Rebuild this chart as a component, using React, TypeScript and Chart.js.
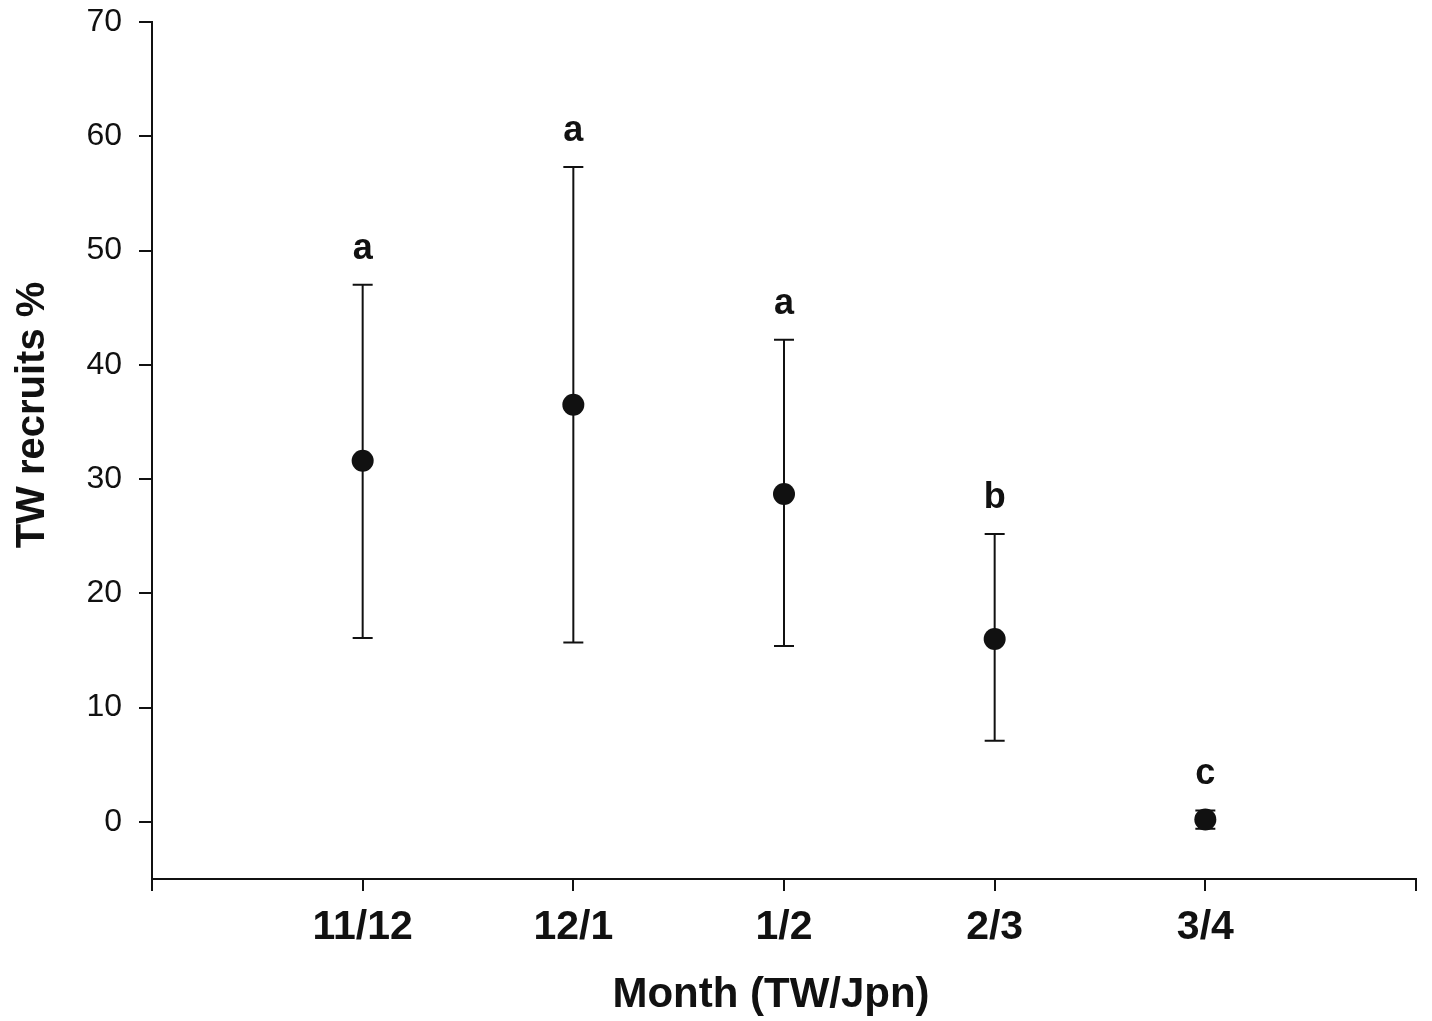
import React, { useEffect, useRef } from "react";
import { Chart, registerables } from "chart.js";

Chart.register(...registerables);

const categories = ["11/12", "12/1", "1/2", "2/3", "3/4"];
const means = [31.6, 36.5, 28.7, 16.0, 0.2];
const upper = [47.0, 57.3, 42.2, 25.2, 1.0];
const lower = [16.1, 15.7, 15.4, 7.1, -0.6];
const letters = ["a", "a", "a", "b", "c"];
const yTicks = [0, 10, 20, 30, 40, 50, 60, 70];

const FONT = '"Liberation Sans", Arial, Helvetica, sans-serif';
const INK = "#111111";

export default function App() {
  const ref = useRef<HTMLCanvasElement | null>(null);

  useEffect(() => {
    if (!ref.current) return;

    const errorBars = {
      id: "errorBars",
      beforeDatasetsDraw(chart: any) {
        const ctx = chart.ctx;
        const xs = chart.scales.x;
        const ys = chart.scales.y;
        ctx.save();
        ctx.strokeStyle = INK;
        ctx.lineWidth = 2;
        categories.forEach((_, i) => {
          const x = xs.getPixelForValue(i + 1);
          const yu = ys.getPixelForValue(upper[i]);
          const yl = ys.getPixelForValue(lower[i]);
          ctx.beginPath();
          ctx.moveTo(x, yu);
          ctx.lineTo(x, yl);
          ctx.moveTo(x - 10, yu);
          ctx.lineTo(x + 10, yu);
          ctx.moveTo(x - 10, yl);
          ctx.lineTo(x + 10, yl);
          ctx.stroke();
        });
        ctx.restore();
      },
      afterDraw(chart: any) {
        const ctx = chart.ctx;
        const xs = chart.scales.x;
        const ys = chart.scales.y;
        ctx.save();
        ctx.fillStyle = INK;
        ctx.textAlign = "center";
        ctx.textBaseline = "alphabetic";
        ctx.font = `bold 36px ${FONT}`;
        letters.forEach((l, i) => {
          const x = xs.getPixelForValue(i + 1);
          const yu = ys.getPixelForValue(upper[i]);
          ctx.fillText(l, x, yu - 26);
        });
        // axis titles
        ctx.font = `bold 42px ${FONT}`;
        ctx.textBaseline = "middle";
        ctx.fillText("Month (TW/Jpn)", 771, 995);
        ctx.translate(33, 415);
        ctx.rotate(-Math.PI / 2);
        ctx.font = `bold 40px ${FONT}`;
        ctx.fillText("TW recruits %", 0, 0);
        ctx.restore();
      },
    };

    const chart = new Chart(ref.current, {
      type: "scatter",
      data: {
        datasets: [
          {
            label: "TW recruits %",
            data: means.map((m, i) => ({ x: i + 1, y: m })),
            backgroundColor: INK,
            borderColor: INK,
            pointRadius: 11,
            pointHoverRadius: 11,
            borderWidth: 0,
          },
        ],
      },
      options: {
        animation: false,
        responsive: false,
        layout: { padding: { top: 22, right: 16, left: 0, bottom: 0 } },
        plugins: {
          legend: { display: false },
          tooltip: { enabled: false },
        },
        scales: {
          x: {
            type: "linear",
            min: 0,
            max: 6,
            afterBuildTicks(scale: any) {
              scale.ticks = [0, 1, 2, 3, 4, 5, 6].map((v) => ({ value: v }));
            },
            afterFit(scale: any) {
              scale.height = 142;
              scale.paddingLeft = 0;
              scale.paddingRight = 0;
            },
            grid: {
              drawOnChartArea: false,
              drawTicks: true,
              tickLength: 12,
              tickColor: INK,
              lineWidth: 2,
            },
            border: { display: true, color: INK, width: 2 },
            ticks: {
              autoSkip: false,
              maxRotation: 0,
              padding: 12,
              color: INK,
              font: { family: FONT, size: 41, weight: "bold" },
              callback: (v: any) => {
                const n = Number(v);
                return n >= 1 && n <= categories.length ? categories[n - 1] : "";
              },
            },
          },
          y: {
            type: "linear",
            min: -5,
            max: 70,
            afterBuildTicks(scale: any) {
              scale.ticks = yTicks.map((v) => ({ value: v }));
            },
            afterFit(scale: any) {
              scale.width = 152;
              scale.paddingTop = 0;
              scale.paddingBottom = 0;
            },
            grid: {
              drawOnChartArea: false,
              drawTicks: true,
              tickLength: 13,
              tickColor: INK,
              lineWidth: 2,
            },
            border: { display: true, color: INK, width: 2 },
            ticks: {
              padding: 17,
              color: INK,
              font: { family: FONT, size: 32 },
            },
          },
        },
      },
      plugins: [errorBars],
    });

    return () => chart.destroy();
  }, []);

  return (
    <div style={{ position: "fixed", left: 0, top: 0, width: 1432, height: 1021, background: "#fff" }}>
      <canvas ref={ref} width={1432} height={1021} style={{ width: 1432, height: 1021, display: "block" }} />
    </div>
  );
}
